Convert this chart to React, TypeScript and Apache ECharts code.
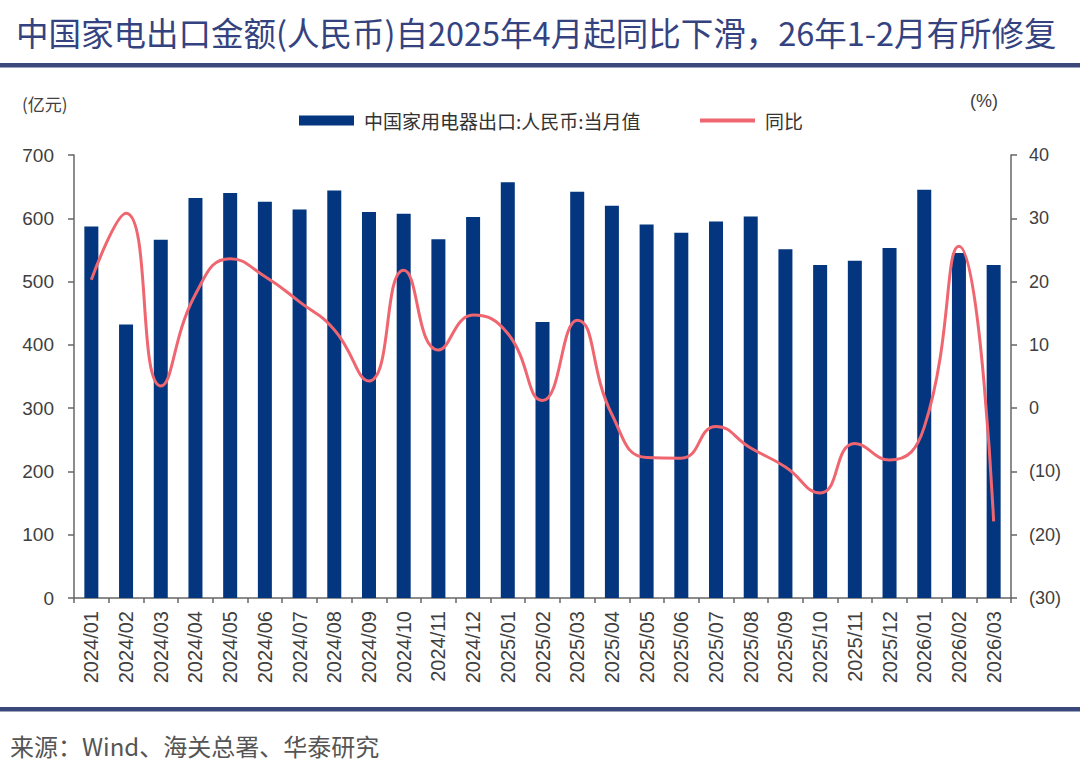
import React, { useEffect, useRef } from "react";
import * as echarts from "echarts";

const categories = [
  "2024/01", "2024/02", "2024/03", "2024/04", "2024/05", "2024/06", "2024/07", "2024/08", "2024/09",
  "2024/10", "2024/11", "2024/12", "2025/01", "2025/02", "2025/03", "2025/04", "2025/05", "2025/06",
  "2025/07", "2025/08", "2025/09", "2025/10", "2025/11", "2025/12", "2026/01", "2026/02", "2026/03",
];

const exportValues = [
  587, 432, 566, 632, 640, 626, 614, 644, 610, 607, 567, 602, 657, 436, 642, 620, 590, 577, 595, 603,
  551, 526, 533, 553, 645, 545, 526,
];

const yoyValues = [
  20.3, 30.8, 3.5, 18.0, 23.6, 20.8, 16.8, 12.4, 4.3, 21.8, 9.2, 14.7, 11.8, 1.2, 13.9, -1.0, -7.8,
  -7.9, -2.9, -6.3, -9.3, -13.4, -5.6, -8.2, -3.0, 25.6, -17.9,
];

const barName = "中国家用电器出口:人民币:当月值";
const lineName = "同比";
const titleText = "中国家电出口金额(人民币)自2025年4月起同比下滑，26年1-2月有所修复";
const sourceText = "来源：Wind、海关总署、华泰研究";

const CJK = "'Noto Sans CJK SC', 'Noto Sans', sans-serif";
const LAT = "'Liberation Sans', Arial, 'Noto Sans CJK SC', sans-serif";

export default function App() {
  const ref = useRef<HTMLDivElement>(null);

  useEffect(() => {
    document.body.style.margin = "0";
    if (!ref.current) return;
    const chart = echarts.init(ref.current, undefined, { renderer: "svg" });
    const axisColor = "#666666";
    const labelColor = "#404040";
    chart.setOption({
      animation: false,
      backgroundColor: "#ffffff",
      title: {
        text: titleText,
        left: 11,
        top: 10,
        textStyle: { fontFamily: CJK, fontSize: 32.5, fontWeight: "normal", color: "#34437f" },
      },
      legend: [
        {
          data: [{ name: barName, icon: "rect" }],
          left: 294,
          top: 106,
          itemWidth: 55,
          itemHeight: 10,
          selectedMode: false,
          textStyle: { fontFamily: CJK, fontSize: 19, color: "#333333", padding: [0, 0, 0, 5] },
        },
        {
          data: [{ name: lineName }],
          left: 693,
          top: 106,
          itemWidth: 55,
          itemHeight: 10,
          selectedMode: false,
          itemStyle: { opacity: 0 },
          lineStyle: { width: 4, color: "#ef6670" },
          textStyle: { fontFamily: CJK, fontSize: 19, color: "#333333", padding: [0, 0, 0, 5] },
        },
      ],
      grid: { left: 74, right: 69, top: 155, bottom: 176, containLabel: false },
      xAxis: {
        type: "category",
        data: categories,
        axisLine: { lineStyle: { color: axisColor, width: 1.5 } },
        axisTick: { show: true, length: 5, lineStyle: { color: axisColor, width: 1.5 } },
        axisLabel: {
          interval: 0,
          rotate: 90,
          margin: 13,
          fontFamily: LAT,
          fontSize: 20,
          color: labelColor,
        },
      },
      yAxis: [
        {
          type: "value",
          min: 0,
          max: 700,
          interval: 100,
          axisLine: { show: true, lineStyle: { color: axisColor, width: 1.5 } },
          axisTick: { show: true, length: 6, lineStyle: { color: axisColor, width: 1.5 } },
          axisLabel: { margin: 20, fontFamily: LAT, fontSize: 19, color: labelColor },
          splitLine: { show: false },
        },
        {
          type: "value",
          min: -30,
          max: 40,
          interval: 10,
          position: "right",
          axisLine: { show: true, lineStyle: { color: axisColor, width: 1.5 } },
          axisTick: { show: true, length: 6, lineStyle: { color: axisColor, width: 1.5 } },
          axisLabel: {
            margin: 18,
            fontFamily: LAT,
            fontSize: 18,
            color: labelColor,
            formatter: (v: number) => (v < 0 ? `(${-v})` : `${v}`),
          },
          splitLine: { show: false },
        },
      ],
      series: [
        {
          name: barName,
          type: "bar",
          data: exportValues,
          barWidth: 14,
          itemStyle: { color: "#03367f" },
          yAxisIndex: 0,
          z: 2,
        },
        {
          name: lineName,
          type: "line",
          data: yoyValues,
          yAxisIndex: 1,
          smooth: true,
          symbol: "none",
          showSymbol: false,
          lineStyle: { color: "#ef6670", width: 3 },
          itemStyle: { color: "#ef6670" },
          z: 3,
        },
      ],
      graphic: [
        { type: "rect", shape: { x: 0, y: 63, width: 1080, height: 4.5 }, style: { fill: "#3a487c" } },
        { type: "rect", shape: { x: 0, y: 707, width: 1080, height: 4.5 }, style: { fill: "#3a487c" } },
        {
          type: "text",
          x: 22,
          y: 103,
          style: { text: "(亿元)", fontFamily: CJK, fontSize: 17, fill: "#404040", verticalAlign: "middle" },
        },
        {
          type: "text",
          x: 970,
          y: 101,
          style: { text: "(%)", fontFamily: LAT, fontSize: 18, fill: "#404040", verticalAlign: "middle" },
        },
        {
          type: "text",
          x: 10,
          y: 745,
          style: { text: sourceText, fontFamily: CJK, fontSize: 24, fill: "#555555", verticalAlign: "middle" },
        },
      ],
    });
    return () => chart.dispose();
  }, []);

  return <div ref={ref} style={{ width: 1080, height: 774 }} />;
}
